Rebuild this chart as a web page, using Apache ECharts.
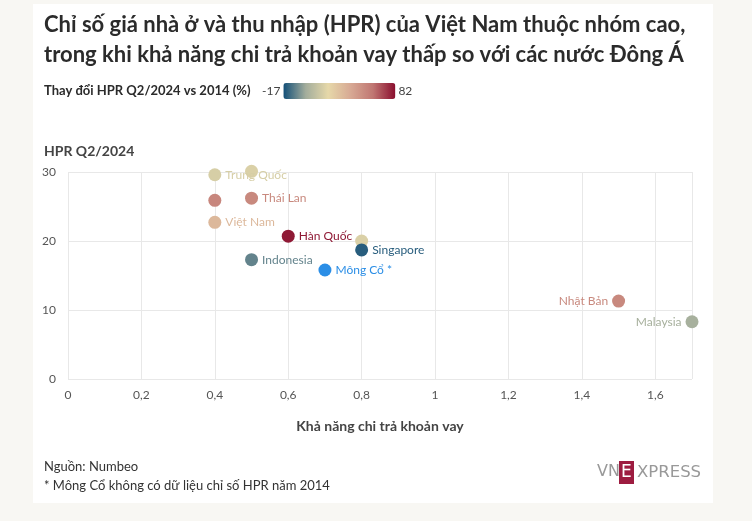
<!DOCTYPE html>
<html><head><meta charset="utf-8">
<script src="https://cdn.jsdelivr.net/npm/echarts@6/dist/echarts.min.js"></script>
<style>
html,body{margin:0;padding:0;background:#f8f7f3;}
#card{position:absolute;left:33px;top:4px;width:680px;height:499px;background:#fff;}
#chart{position:absolute;left:0;top:0;width:752px;height:521px;}
</style></head>
<body><div id="card"></div><div id="chart"></div>
<script>
// Data
const countries = ['Trung Quốc', '', '', 'Thái Lan', 'Việt Nam', 'Hàn Quốc', '', 'Singapore', 'Indonesia', 'Nhật Bản', 'Malaysia'];
const affordability = [0.4, 0.5, 0.4, 0.5, 0.4, 0.6, 0.8, 0.8, 0.5, 1.5, 1.7];
const hpr = [29.6, 30.1, 25.9, 26.2, 22.7, 20.7, 20.0, 18.7, 17.3, 11.3, 8.3];
const hprChange = [18, 19, 56, 55, 36, 80, 19, -14, -6, 55, 4];
const labelSide = ['right', 'right', 'right', 'right', 'right', 'right', 'right', 'right', 'right', 'left', 'left'];
const noDataName = ['Mông Cổ *'];
const noDataX = [0.7];
const noDataY = [15.8];
const xTicks = [0, 0.2, 0.4, 0.6, 0.8, 1, 1.2, 1.4, 1.6];
const yTicks = [0, 10, 20, 30];
const changeRange = [-17, 82];

const FONT = 'Lato, "Noto Sans", sans-serif';
const chart = echarts.init(document.getElementById('chart'), null, {renderer: 'canvas'});

const mainData = countries.map((c, i) => ({
  name: c,
  value: [affordability[i], hpr[i], hprChange[i]],
  label: {show: c !== '', position: labelSide[i]}
}));
const noData = noDataName.map((c, i) => ({name: c, value: [noDataX[i], noDataY[i]]}));

chart.setOption({
  animation: false,
  textStyle: {fontFamily: FONT},
  title: [
    {text: 'Chỉ số giá nhà ở và thu nhập (HPR) của Việt Nam thuộc nhóm cao,\ntrong khi khả năng chi trả khoản vay thấp so với các nước Đông Á',
     left: 39, top: 5, textStyle: {fontFamily: FONT, fontSize: 22, fontWeight: 'bold', color: '#2b2b2b', lineHeight: 30}},
    {text: 'Thay đổi HPR Q2/2024 vs 2014 (%)', left: 39, top: 79,
     textStyle: {fontFamily: FONT, fontSize: 13, fontWeight: 'bold', color: '#2b2b2b'}},
    {text: 'HPR Q2/2024', left: 39, top: 139,
     textStyle: {fontFamily: FONT, fontSize: 14, fontWeight: 'bold', color: '#444'}}
  ],
  visualMap: {
    type: 'continuous', min: changeRange[0], max: changeRange[1], orient: 'horizontal',
    left: 247, top: 68, itemWidth: 16, itemHeight: 112, textGap: 3,
    text: [String(changeRange[1]), String(changeRange[0])],
    calculable: false, realtime: false, seriesIndex: 0, dimension: 2,
    textStyle: {fontFamily: FONT, fontSize: 12, color: '#444'},
    inRange: {color: ['#124f78', '#a3ad9c', '#e6d8a9', '#d7a994', '#c07672', '#8a0e2e']}
  },
  grid: {left: 68, right: 60, top: 172, bottom: 142},
  xAxis: {
    type: 'value', min: 0, max: 1.7, interval: 0.2,
    name: 'Khả năng chi trả khoản vay', nameLocation: 'middle', nameGap: 40,
    nameTextStyle: {fontFamily: FONT, fontSize: 14, fontWeight: 'bold', color: '#444'},
    axisLine: {show: false}, axisTick: {show: false},
    axisLabel: {color: '#555', fontSize: 12, margin: 10, fontFamily: FONT,
      formatter: v => xTicks.some(t => Math.abs(t - v) < 1e-9) ? String(+v.toFixed(1)).replace('.', ',') : ''},
    splitLine: {lineStyle: {color: '#e8e8e8'}}
  },
  yAxis: {
    type: 'value', min: 0, max: 30, interval: 10,
    axisLine: {show: false}, axisTick: {show: false},
    axisLabel: {color: '#555', fontSize: 12, margin: 12, fontFamily: FONT,
      formatter: v => yTicks.includes(v) ? String(v) : ''},
    splitLine: {lineStyle: {color: '#e8e8e8'}}
  },
  series: [
    {type: 'scatter', symbolSize: 13, clip: false, data: mainData, itemStyle: {opacity: 1},
     label: {formatter: '{b}', fontSize: 12, color: 'inherit', distance: 4, fontFamily: FONT}},
    {type: 'scatter', symbolSize: 13, clip: false, data: noData, itemStyle: {color: '#2b8ee6', opacity: 1},
     label: {show: true, position: 'right', formatter: '{b}', fontSize: 12, color: '#2b8ee6', distance: 4, fontFamily: FONT}}
  ],
  graphic: [
    {type: 'text', left: 44, top: 460, style: {text: 'Nguồn: Numbeo', font: '13px ' + FONT, fill: '#333'}},
    {type: 'text', left: 44, top: 479, style: {text: '* Mông Cổ không có dữ liệu chỉ số HPR năm 2014', font: '13px ' + FONT, fill: '#333'}},
    {type: 'text', left: 597, top: 464, style: {text: 'VN', font: '16px "DejaVu Sans", sans-serif', fill: '#999'}},
    {type: 'rect', shape: {x: 619, y: 461, width: 15, height: 23}, style: {fill: '#9d1c40'}},
    {type: 'text', left: 621, top: 464, style: {text: 'E', font: '17px "DejaVu Sans", sans-serif', fill: '#fff'}},
    {type: 'text', left: 637, top: 464, style: {text: 'XPRESS', font: '16.5px "DejaVu Sans", sans-serif', fill: '#999'}}
  ]
});
</script></body></html>
